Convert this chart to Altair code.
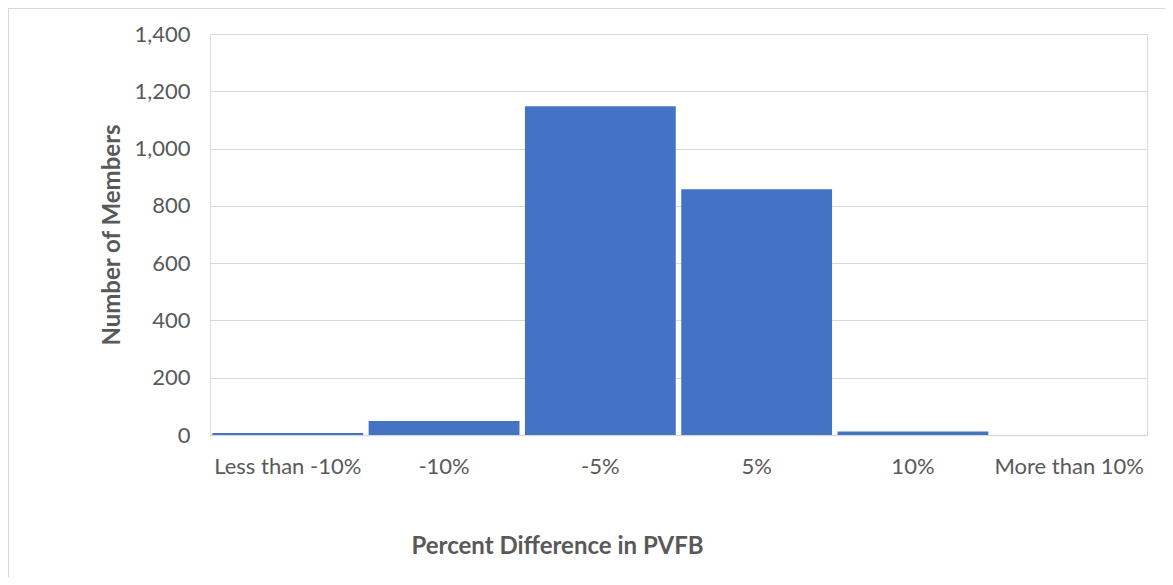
import altair as alt
import pandas as pd

categories = ["Less than -10%", "-10%", "-5%", "5%", "10%", "More than 10%"]
members = [7, 49, 1148, 858, 12, 0]

df = pd.DataFrame({"cat": categories, "n": members})

FONT = "Lato"
GREY = "#595959"

bars = alt.Chart(df).mark_bar(color="#4472C4").encode(
    x=alt.X("cat:N", sort=categories,
            scale=alt.Scale(paddingInner=0.035, paddingOuter=0.015),
            axis=alt.Axis(title="Percent Difference in PVFB", labelAngle=0,
                          labelPadding=21, titlePadding=57, ticks=False,
                          titleX=347, titleAlign="center",
                          domainColor="#D9D9D9", domainWidth=1.5,
                          labelFontSize=22, labelColor=GREY, labelFont=FONT,
                          titleFontSize=24, titleColor=GREY, titleFont=FONT,
                          titleFontWeight="bold")),
    y=alt.Y("n:Q", scale=alt.Scale(domain=[0, 1400]),
            axis=alt.Axis(title="Number of Members", values=list(range(0, 1401, 200)),
                          format=",d", domain=False, ticks=False, labelPadding=20,
                          titlePadding=9, gridColor="#D9D9D9", gridWidth=1.2,
                          labelFontSize=22, labelColor=GREY, labelFont=FONT,
                          titleFontSize=24, titleColor=GREY, titleFont=FONT,
                          titleFontWeight="bold")),
)

frame_top = alt.Chart(df).mark_rule(color="#D9D9D9", strokeWidth=1.5).encode(
    x=alt.value(-202), x2=alt.value(960), y=alt.value(-26))
frame_left = alt.Chart(df).mark_rule(color="#D9D9D9", strokeWidth=1.5).encode(
    x=alt.value(-202), y=alt.value(-26), y2=alt.value(560))

chart = alt.layer(bars, frame_top, frame_left).properties(
    width=937, height=401,
    autosize=alt.AutoSizeParams(type="none"),
    padding={"left": 202, "top": 26, "right": 18, "bottom": 142},
).configure_view(stroke=None).configure(background="white")

chart.save("out.html", embed_options={"renderer": "svg", "actions": False})
